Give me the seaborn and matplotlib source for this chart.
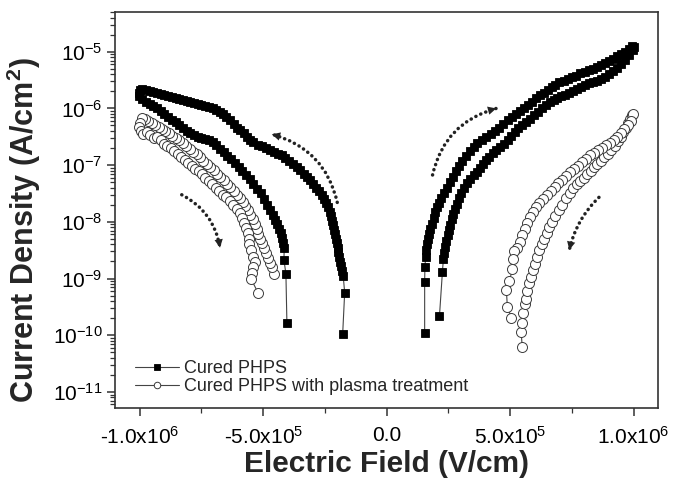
import matplotlib
matplotlib.use("Agg")
import matplotlib.pyplot as plt
import numpy as np
import seaborn as sns

# ---- data: electric field in 1e5 V/cm, log10 of current density (A/cm^2)
# Cured PHPS, negative sweep (outer branch out to -1e6, inner branch back)
neg_cured_E = [
    -1.78, -1.70, -1.76, -1.80, -1.84, -1.88, -1.92, -1.95, -1.99, -2.03,
    -2.07, -2.10, -2.14, -2.18, -2.22, -2.26, -2.30, -2.38, -2.46, -2.55,
    -2.63, -2.75, -2.87, -2.99, -3.11, -3.23, -3.36, -3.50, -3.65, -3.80,
    -3.95, -4.10, -4.25, -4.40, -4.57, -4.73, -4.90, -5.05, -5.22, -5.40,
    -5.55, -5.66, -5.78, -5.92, -6.06, -6.20, -6.35, -6.50, -6.63, -6.75,
    -6.90, -7.05, -7.20, -7.35, -7.50, -7.65, -7.80, -7.95, -8.10, -8.25,
    -8.40, -8.55, -8.70, -8.85, -9.00, -9.15, -9.30, -9.45, -9.60, -9.75,
    -9.90, -10.0, -10.02, -10.02,
    -9.90, -9.75, -9.60, -9.45, -9.30, -9.15, -9.00, -8.85, -8.70, -8.55,
    -8.40, -8.25, -8.10, -7.95, -7.80, -7.65, -7.50, -7.35, -7.20, -7.05,
    -6.90, -6.75, -6.60, -6.45, -6.30, -6.15, -6.00, -5.85, -5.70, -5.55,
    -5.40, -5.25, -5.10, -4.97, -4.85, -4.73, -4.62, -4.52, -4.43, -4.35,
    -4.28, -4.22, -4.18, -4.15, -4.16, -4.08, -4.04,
]
neg_cured_logJ = [
    -9.97, -9.25, -8.95, -8.86, -8.78, -8.70, -8.62, -8.54, -8.46, -8.38,
    -8.30, -8.22, -8.14, -8.06, -7.98, -7.90, -7.82, -7.74, -7.66, -7.59,
    -7.52, -7.46, -7.40, -7.34, -7.27, -7.21, -7.15, -7.08, -7.03, -6.98,
    -6.92, -6.87, -6.83, -6.80, -6.77, -6.73, -6.70, -6.67, -6.64, -6.60,
    -6.56, -6.50, -6.44, -6.38, -6.34, -6.28, -6.21, -6.15, -6.10, -6.07,
    -6.03, -6.00, -5.98, -5.96, -5.94, -5.92, -5.90, -5.88, -5.87, -5.85,
    -5.83, -5.81, -5.79, -5.78, -5.76, -5.74, -5.73, -5.71, -5.69, -5.68,
    -5.66, -5.67, -5.72, -5.78,
    -5.84, -5.88, -5.92, -5.96, -6.00, -6.05, -6.10, -6.15, -6.20, -6.24,
    -6.29, -6.34, -6.40, -6.44, -6.47, -6.50, -6.52, -6.54, -6.56, -6.60,
    -6.65, -6.71, -6.77, -6.84, -6.90, -6.96, -7.03, -7.10, -7.17, -7.24,
    -7.33, -7.42, -7.50, -7.60, -7.70, -7.79, -7.88, -7.96, -8.04, -8.12,
    -8.20, -8.29, -8.38, -8.47, -8.67, -8.92, -9.78,
]

# Cured PHPS, positive sweep
pos_cured_E = [
    1.54, 1.54, 1.55, 1.58, 1.60, 1.62, 1.66, 1.70, 1.76, 1.82,
    1.90, 1.97, 2.04, 2.12, 2.22, 2.34, 2.45, 2.56, 2.67, 2.80,
    2.94, 3.07, 3.22, 3.37, 3.52, 3.68, 3.85, 4.04, 4.22, 4.40,
    4.57, 4.73, 4.90, 5.06, 5.22, 5.40, 5.56, 5.72, 5.88, 6.04,
    6.20, 6.36, 6.52, 6.68, 6.84, 7.00, 7.18, 7.35, 7.52, 7.68,
    7.85, 8.02, 8.20, 8.36, 8.52, 8.70, 8.86, 9.02, 9.18, 9.34,
    9.50, 9.66, 9.82, 9.94, 10.0, 9.96,
    9.80, 9.64, 9.48, 9.32, 9.16, 9.00, 8.84, 8.68, 8.52, 8.36,
    8.20, 8.04, 7.88, 7.72, 7.56, 7.40, 7.24, 7.08, 6.92, 6.76,
    6.60, 6.44, 6.28, 6.12, 5.96, 5.80, 5.64, 5.49, 5.34, 5.19,
    5.04, 4.90, 4.75, 4.60, 4.44, 4.30, 4.16, 4.04, 3.92, 3.80,
    3.66, 3.52, 3.38, 3.24, 3.12, 3.02, 2.93, 2.85, 2.77, 2.70,
    2.64, 2.58, 2.52, 2.47, 2.42, 2.38, 2.34, 2.30, 2.26, 2.14,
]
pos_cured_logJ = [
    -9.96, -9.06, -8.79, -8.62, -8.50, -8.40, -8.30, -8.22, -8.12, -8.03,
    -7.93, -7.83, -7.74, -7.66, -7.58, -7.49, -7.40, -7.30, -7.21, -7.11,
    -7.01, -6.92, -6.84, -6.75, -6.68, -6.61, -6.55, -6.50, -6.45, -6.40,
    -6.35, -6.28, -6.21, -6.15, -6.09, -6.04, -5.99, -5.94, -5.88, -5.82,
    -5.77, -5.73, -5.68, -5.63, -5.58, -5.54, -5.51, -5.48, -5.45, -5.42,
    -5.38, -5.35, -5.33, -5.31, -5.27, -5.23, -5.19, -5.16, -5.12, -5.08,
    -5.04, -5.00, -4.95, -4.90, -4.92, -4.97,
    -5.06, -5.14, -5.21, -5.28, -5.34, -5.40, -5.45, -5.48, -5.51, -5.54,
    -5.56, -5.58, -5.62, -5.66, -5.70, -5.73, -5.76, -5.78, -5.81, -5.85,
    -5.89, -5.94, -6.00, -6.06, -6.12, -6.18, -6.24, -6.29, -6.35, -6.42,
    -6.49, -6.56, -6.62, -6.68, -6.73, -6.79, -6.85, -6.91, -6.98, -7.05,
    -7.12, -7.18, -7.24, -7.31, -7.40, -7.49, -7.58, -7.68, -7.77, -7.86,
    -7.95, -8.05, -8.14, -8.24, -8.34, -8.45, -8.55, -8.65, -8.88, -9.66,
]

# Cured PHPS with plasma treatment, negative sweep
neg_plasma_E = [
    -4.57, -4.65, -4.73, -4.81, -4.90, -4.98, -5.06, -5.13, -5.20, -5.27,
    -5.35, -5.43, -5.52, -5.62, -5.72, -5.83, -5.95, -6.07, -6.20, -6.33,
    -6.46, -6.60, -6.73, -6.87, -7.00, -7.14, -7.28, -7.42, -7.56, -7.70,
    -7.84, -7.98, -8.12, -8.26, -8.40, -8.54, -8.68, -8.82, -8.96, -9.10,
    -9.24, -9.38, -9.52, -9.66, -9.80, -9.92, -10.0, -10.02, -9.95,
    -9.85, -9.72, -9.58, -9.44, -9.30, -9.16, -9.02, -8.88, -8.74, -8.60,
    -8.46, -8.32, -8.18, -8.04, -7.90, -7.76, -7.62, -7.48, -7.34, -7.20,
    -7.06, -6.92, -6.78, -6.64, -6.50, -6.36, -6.22, -6.08, -5.96, -5.85,
    -5.76, -5.68, -5.62, -5.58, -5.56, -5.50, -5.40, -5.33, -5.41, -5.45,
    -5.50, -5.21,
]
neg_plasma_logJ = [
    -8.92, -8.80, -8.72, -8.64, -8.55, -8.47, -8.38, -8.30, -8.21, -8.12,
    -8.03, -7.95, -7.88, -7.80, -7.72, -7.65, -7.58, -7.52, -7.45, -7.39,
    -7.33, -7.27, -7.21, -7.15, -7.09, -7.03, -6.98, -6.92, -6.86, -6.81,
    -6.76, -6.71, -6.66, -6.61, -6.56, -6.52, -6.48, -6.44, -6.40, -6.36,
    -6.33, -6.29, -6.26, -6.22, -6.19, -6.17, -6.25, -6.33, -6.40,
    -6.45, -6.42, -6.47, -6.52, -6.50, -6.56, -6.62, -6.66, -6.70, -6.75,
    -6.80, -6.86, -6.91, -6.96, -7.01, -7.06, -7.11, -7.16, -7.22, -7.28,
    -7.34, -7.40, -7.46, -7.52, -7.57, -7.63, -7.70, -7.77, -7.85, -7.93,
    -8.02, -8.11, -8.20, -8.30, -8.40, -8.50, -8.62, -8.70, -8.80, -8.90,
    -9.00, -9.25,
]

# Cured PHPS with plasma treatment, positive sweep
pos_plasma_E = [
    5.49, 5.45, 5.49, 5.54, 5.62, 5.66, 5.70, 5.78, 5.86, 5.92,
    6.00, 6.08, 6.18, 6.28, 6.38, 6.48, 6.58, 6.70, 6.84, 6.99,
    7.12, 7.27, 7.42, 7.56, 7.70, 7.84, 7.98, 8.12, 8.26, 8.40,
    8.54, 8.68, 8.82, 8.96, 9.10, 9.24, 9.36, 9.48, 9.58, 9.68,
    9.78, 9.86, 9.94, 9.98,
    9.88, 9.76, 9.62, 9.48, 9.34, 9.20, 9.04, 8.88, 8.72, 8.56,
    8.40, 8.24, 8.08, 7.92, 7.76, 7.60, 7.44, 7.28, 7.12, 6.96,
    6.80, 6.64, 6.48, 6.32, 6.18, 6.06, 5.94, 5.82, 5.70, 5.60,
    5.50, 5.40, 5.29, 5.17, 5.12, 5.09, 4.97, 4.85, 4.89, 5.05,
]
pos_plasma_logJ = [
    -10.20, -9.94, -9.78, -9.60, -9.45, -9.37, -9.22, -9.08, -8.97, -8.85,
    -8.74, -8.62, -8.50, -8.40, -8.30, -8.20, -8.10, -8.00, -7.90, -7.80,
    -7.70, -7.58, -7.49, -7.41, -7.34, -7.28, -7.22, -7.16, -7.10, -7.04,
    -6.98, -6.92, -6.86, -6.80, -6.73, -6.66, -6.58, -6.50, -6.42, -6.34,
    -6.26, -6.19, -6.12, -6.10,
    -6.22, -6.30, -6.36, -6.44, -6.50, -6.56, -6.61, -6.65, -6.70, -6.74,
    -6.78, -6.83, -6.89, -6.95, -7.01, -7.07, -7.13, -7.19, -7.26, -7.32,
    -7.39, -7.46, -7.52, -7.60, -7.67, -7.74, -7.83, -7.92, -8.02, -8.12,
    -8.24, -8.36, -8.46, -8.52, -8.66, -8.84, -9.05, -9.20, -9.50, -9.69,
]

x_ticks = [-1.0e6, -5.0e5, 0.0, 5.0e5, 1.0e6]
x_tick_labels = ["-1.0x10$^{6}$", "-5.0x10$^{5}$", "0.0", "5.0x10$^{5}$", "1.0x10$^{6}$"]
labels = ["Cured PHPS", "Cured PHPS with plasma treatment"]


def to_si(E, logJ):
    return np.asarray(E) * 1e5, 10.0 ** np.asarray(logJ)


sns.set_theme(style="ticks")
plt.rcParams.update({
    "font.family": ["Liberation Sans", "DejaVu Sans"],
    "mathtext.default": "regular",
    "axes.linewidth": 1.2,
    "axes.edgecolor": "#333333",
    "xtick.direction": "out",
    "ytick.direction": "out",
    "xtick.color": "#333333",
    "ytick.color": "#333333",
    "xtick.labelcolor": "black",
    "ytick.labelcolor": "black",
})

fig = plt.figure(figsize=(6.73, 4.84), dpi=100)
ax = fig.add_axes([0.171, 0.157, 0.807, 0.818])

cured_style = dict(marker="s", markersize=6.4, markerfacecolor="black",
                   markeredgecolor="black", markeredgewidth=0.6,
                   color="#444444", linewidth=0.8)
plasma_style = dict(marker="o", markersize=7.2, markerfacecolor="white",
                    markeredgecolor="#3a3a3a", markeredgewidth=0.7,
                    color="#444444", linewidth=0.8)

for (E, lj), style, lab in [
    ((neg_cured_E, neg_cured_logJ), cured_style, labels[0]),
    ((pos_cured_E, pos_cured_logJ), cured_style, None),
    ((neg_plasma_E, neg_plasma_logJ), plasma_style, labels[1]),
    ((pos_plasma_E, pos_plasma_logJ), plasma_style, None),
]:
    x, y = to_si(E, lj)
    sns.lineplot(x=x, y=y, ax=ax, sort=False, estimator=None,
                 label=lab, legend=False, **style)

ax.set_yscale("log")
ax.set_xlim(-1.1e6, 1.1e6)
ax.set_ylim(5.2e-12, 5.0e-5)
ax.set_xticks(x_ticks)
ax.set_xticklabels(x_tick_labels)
ax.set_xticks([-7.5e5, -2.5e5, 2.5e5, 7.5e5], minor=True)
ax.yaxis.set_major_locator(matplotlib.ticker.LogLocator(base=10, numticks=20))
ax.yaxis.set_minor_locator(matplotlib.ticker.LogLocator(base=10, subs=np.arange(2, 10), numticks=20))
ax.tick_params(axis="both", which="major", length=6, width=1.1, labelsize=15)
ax.tick_params(axis="both", which="minor", length=3.5, width=0.9)
ax.tick_params(axis="y", pad=3)
ax.tick_params(axis="x", pad=7, labelsize=15)

ax.set_xlabel("Electric Field (V/cm)", fontsize=21.5, fontweight="bold")
ax.set_ylabel("Current Density (A/cm$^{2}$)", fontsize=22, fontweight="bold")
ax.xaxis.set_label_coords(0.5, -0.106)
ax.yaxis.set_label_coords(-0.133, 0.45)

# dotted sweep-direction arrows: dotted shaft, then a solid head on the same arc
shaft_kw = dict(arrowstyle="-", linestyle=(0, (0.05, 1.5)), lw=2.5,
                color="#222222", capstyle="round", shrinkA=0, shrinkB=0)
head_kw = dict(arrowstyle="-|>,head_length=0.5,head_width=0.25", lw=0,
               color="#222222", shrinkA=0, shrinkB=0)
for start, end, rad in [
    ((-2.0e5, 2.2e-8), (-4.65e5, 3.5e-7), 0.3),
    ((-8.3e5, 3.0e-8), (-6.75e5, 3.5e-9), -0.25),
    ((1.86e5, 6.7e-8), (4.44e5, 1.0e-6), -0.3),
    ((8.6e5, 2.7e-8), (7.4e5, 3.2e-9), 0.15),
]:
    for kw in (shaft_kw, head_kw):
        ax.annotate("", xy=end, xytext=start,
                    arrowprops=dict(connectionstyle=f"arc3,rad={rad}", **kw))

leg = ax.legend(loc="lower left", bbox_to_anchor=(0.024, 0.015), frameon=False,
                fontsize=13, handlelength=2.4, handletextpad=0.3,
                labelspacing=0.02, borderaxespad=0, markerscale=0.65)

fig.savefig("out.png", dpi=100, facecolor="white")
